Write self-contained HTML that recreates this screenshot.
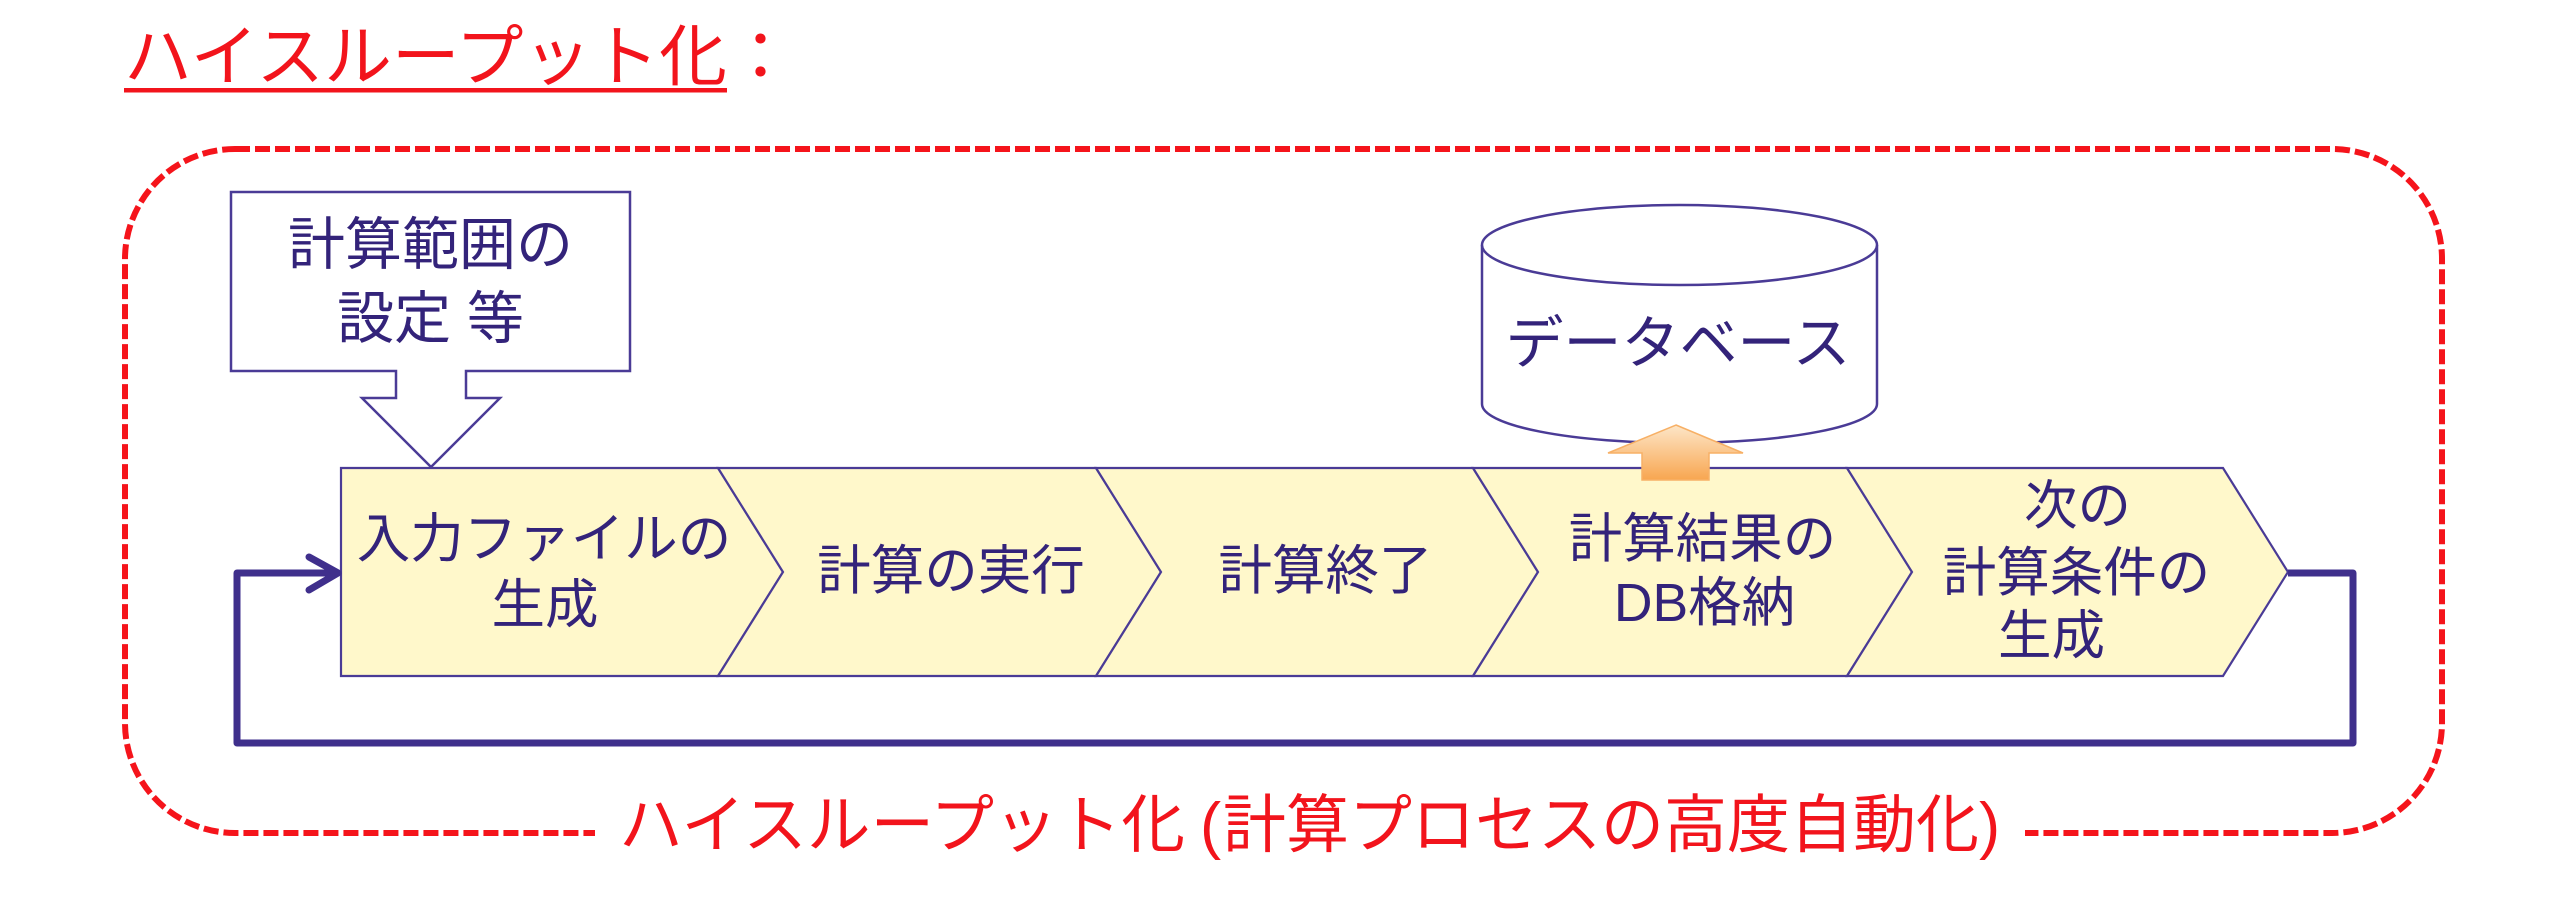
<!DOCTYPE html>
<html>
<head>
<meta charset="utf-8">
<style>
html,body{margin:0;padding:0;background:#fff;}
body{width:2560px;height:902px;overflow:hidden;}
svg{display:block;}
text{font-family:"Liberation Sans","Noto Sans CJK JP",sans-serif;}
</style>
</head>
<body>
<svg width="2560" height="902" viewBox="0 0 2560 902" xmlns="http://www.w3.org/2000/svg">
  <defs>
    <linearGradient id="og" x1="0" y1="0" x2="0" y2="1">
      <stop offset="0" stop-color="#fde6c8"/>
      <stop offset="1" stop-color="#f8a650"/>
    </linearGradient>
  </defs>

  <!-- Title -->
  <text x="124" y="80" font-size="67" fill="#f2141c" textLength="603" lengthAdjust="spacingAndGlyphs">ハイスループット化</text>
  <text x="727" y="80" font-size="67" fill="#f2141c">：</text>
  <rect x="124" y="88" width="603" height="4.5" fill="#f2141c"/>

  <!-- Dashed rounded frame -->
  <rect x="125" y="149" width="2317" height="684" rx="110" ry="110" fill="none" stroke="#f5141b" stroke-width="6" stroke-dasharray="15 5"/>
  <rect x="595" y="818" width="1430" height="32" fill="#fff"/>

  <!-- Bottom label -->
  <text x="619" y="847" font-size="63.5" fill="#f2141c" textLength="566" lengthAdjust="spacingAndGlyphs">ハイスループット化</text>
  <text x="1200" y="847" font-size="63.5" fill="#f2141c">(</text>
  <text x="1223" y="847" font-size="63.5" fill="#f2141c" textLength="756" lengthAdjust="spacingAndGlyphs">計算プロセスの高度自動化</text>
  <text x="1979" y="847" font-size="63.5" fill="#f2141c">)</text>

  <!-- Callout arrow box -->
  <path d="M231,192 H630 V371 H466 V398 H500 L431,467 L362,398 H396 V371 H231 Z" fill="#fff" stroke="#4a3b96" stroke-width="2.5" stroke-linejoin="miter"/>
  <text x="430.5" y="264" font-size="57" fill="#33237a" text-anchor="middle">計算範囲の</text>
  <text x="430.5" y="338" font-size="57" fill="#33237a" text-anchor="middle">設定 等</text>

  <!-- Database cylinder -->
  <path d="M1482,245 V404 A197.5,39 0 0 0 1877,404 V245" fill="#fff" stroke="#4a3b96" stroke-width="2.5"/>
  <ellipse cx="1679.5" cy="245" rx="197.5" ry="40" fill="#fff" stroke="#4a3b96" stroke-width="2.5"/>
  <text x="1678" y="363" font-size="57.5" fill="#33237a" text-anchor="middle" textLength="345" lengthAdjust="spacingAndGlyphs">データベース</text>

  <!-- Chevrons -->
  <g fill="#fff8cb" stroke="#4a3b96" stroke-width="2.2" stroke-linejoin="miter">
    <path d="M341,468 H718 L783,572 L718,676 H341 Z"/>
    <path d="M718,468 H1096 L1161,572 L1096,676 H718 L783,572 Z"/>
    <path d="M1096,468 H1473 L1538,572 L1473,676 H1096 L1161,572 Z"/>
    <path d="M1473,468 H1847 L1912,572 L1847,676 H1473 L1538,572 Z"/>
    <path d="M1847,468 H2223 L2288,572 L2223,676 H1847 L1912,572 Z"/>
  </g>

  <!-- Orange up arrow -->
  <polygon points="1676,425 1743,453 1709,453 1709,480 1642,480 1642,453 1608,453" fill="url(#og)" stroke="#f7b066" stroke-width="1.5" stroke-linejoin="miter"/>

  <!-- Chevron text -->
  <g font-size="53.5" fill="#33237a" text-anchor="middle">
    <text x="544" y="557">入力ファイルの</text>
    <text x="545" y="623">生成</text>
    <text x="951" y="589">計算の実行</text>
    <text x="1325.5" y="589">計算終了</text>
    <text x="1702.5" y="557">計算結果の</text>
    <text x="1704.5" y="621">DB格納</text>
    <text x="2077.5" y="524">次の</text>
    <text x="2076.5" y="591">計算条件の</text>
    <text x="2051.5" y="654">生成</text>
  </g>

  <!-- Feedback loop -->
  <polyline points="2288,573 2353,573 2353,743 237,743 237,573 336,573" fill="none" stroke="#3f2f8c" stroke-width="7" stroke-linejoin="round" stroke-linecap="butt"/>
  <polyline points="309,557 338,573 309,590" fill="none" stroke="#3f2f8c" stroke-width="7" stroke-linejoin="round" stroke-linecap="round"/>
</svg>
</body>
</html>
